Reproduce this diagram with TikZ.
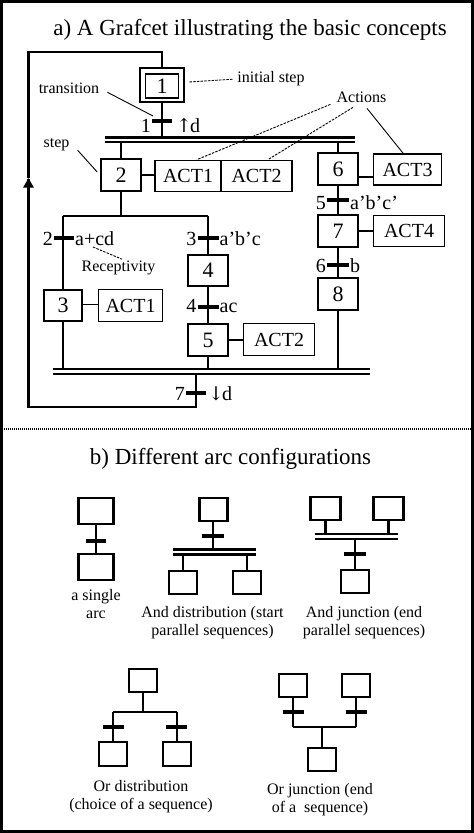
\documentclass[tikz,border=0pt]{standalone}
\usepackage{fontspec}
\setmainfont{Liberation Serif}
\newfontfamily\arrowfont{DejaVu Serif}
\usetikzlibrary{arrows.meta,calc}
\begin{document}
\begin{tikzpicture}[x=1pt,y=-1pt,
  stepbox/.style={draw,line width=2.6pt,minimum width=40pt,minimum height=32pt,inner sep=0pt,font=\fontsize{22}{24}\selectfont},
  actbox/.style={draw,line width=1.8pt,minimum height=31pt,inner sep=0pt,font=\fontsize{20}{22}\selectfont},
  arcline/.style={line width=2.4pt},
  link/.style={line width=1.8pt},
  trbar/.style={line width=3.6pt},
  tlab/.style={inner sep=1pt,font=\fontsize{20}{22}\selectfont},
  notetext/.style={inner sep=0pt,font=\fontsize{16}{18}\selectfont},
  noteline/.style={line width=0.9pt},
  notedash/.style={line width=0.9pt,dash pattern=on 2.5pt off 1.2pt},
  bbox/.style={draw,line width=2.6pt,minimum width=28pt,minimum height=23pt,inner sep=0pt},
  caption/.style={inner sep=0pt,align=center,font=\fontsize{16}{18.5}\selectfont},
  ttl/.style={inner sep=0pt,font=\fontsize{23}{26}\selectfont}
]
\useasboundingbox (0,0) rectangle (474,833);
\fill[white] (0,0) rectangle (474,833);
\draw[line width=3pt] (1.5,1.5) rectangle (472,831.5);
\draw[line width=1.8pt,dash pattern=on 1pt off 1pt] (0,429) -- (474,429);

% ---------------- part a ----------------
\node[ttl,anchor=base] (ta) at (250,35) {a) A Grafcet illustrating the basic concepts};

% step 1 (initial)
\node[draw,line width=2.8pt,minimum width=44pt,minimum height=34pt] (s1) at (162,85) {};
\node[draw,line width=1.4pt,minimum width=33pt,minimum height=24pt,inner sep=0pt,font=\fontsize{22}{24}\selectfont] (s1in) at (162,86) {1};

% transition 1
\coordinate (t1) at (162,121);
\coordinate (b1a) at (105,137.5); \coordinate (b1b) at (355,137.5);
\coordinate (b1c) at (105,142); \coordinate (b1d) at (355,142);
\draw[arcline] (s1.south) -- (s1.south |- b1a);
\draw[trbar] ([xshift=-10pt]t1) -- ([xshift=10pt]t1);
\node[tlab,anchor=base east] (l1a) at ([xshift=-10pt,yshift=-11.5pt]t1) {1};
\node[tlab,anchor=base west] (l1b) at ([xshift=13pt,yshift=-11.5pt]t1) {{\arrowfont\fontsize{19}{22}\selectfont ↑}\kern-2pt d};
\draw[line width=3pt] (b1a) -- (b1b);
\draw[line width=2pt] (b1c) -- (b1d);

% left sequence: step 2
\node[stepbox] (s2) at (121,175) {2};
\draw[arcline] (s2.north |- b1c) -- (s2.north);
\node[actbox,minimum width=66pt] (a1) at (188,176) {ACT1};
\node[actbox,minimum width=71pt] (a2) at (256.5,176) {ACT2};
\draw[link] (s2.east) -- (s2.east -| a1.west);

% right sequence: steps 6,7,8
\node[stepbox] (s6) at (338,169) {6};
\draw[arcline] (s6.north |- b1c) -- (s6.north);
\node[actbox,minimum width=68pt] (a3) at (407.5,169.5) {ACT3};
\draw[link] ([yshift=-8pt]s6.east) -- ([yshift=-8pt]s6.east -| a3.west);
\node[stepbox] (s7) at (338,231) {7};
\node[actbox,minimum width=71pt] (a4) at (409,231) {ACT4};
\draw[link] (s7.east) -- (s7.east -| a4.west);
\node[stepbox] (s8) at (338,294) {8};
\draw[arcline] (s6.south) -- (s7.north);
\draw[arcline] (s7.south) -- (s8.north);
\coordinate (t5) at (338,200);
\coordinate (t6) at (338,265);
\draw[trbar] ([xshift=-11pt]t5) -- ([xshift=11pt]t5);
\draw[trbar] ([xshift=-11pt]t6) -- ([xshift=11pt]t6);
\node[tlab,anchor=base east] (l5a) at ([xshift=-11pt,yshift=-9.5pt]t5) {5};
\node[tlab,anchor=base west] (l5b) at ([xshift=11pt,yshift=-9.5pt]t5) {a’b’c’};
\node[tlab,anchor=base east] (l6a) at ([xshift=-11pt,yshift=-7pt]t6) {6};
\node[tlab,anchor=base west] (l6b) at ([xshift=11pt,yshift=-7pt]t6) {b};

% OR divergence under step 2
\coordinate (o1) at (121,216);
\coordinate (oL) at (63,216);
\coordinate (oR) at (208,216);
\node[stepbox,minimum width=38pt,minimum height=31pt] (s3) at (63,305.5) {3};
\node[stepbox,minimum height=31pt] (s4) at (208,270.5) {4};
\node[stepbox] (s5) at (208,340) {5};
\draw[arcline] (s2.south) -- (o1);
\draw[arcline] (oL) -- (oR);
\draw[arcline] (oL) -- (s3.north);
\draw[arcline] (oR) -- (s4.north);
\draw[arcline] (s4.south) -- (s5.north);
\coordinate (t2) at (64,238);
\coordinate (t3) at (208,238);
\coordinate (t4) at (208,307);
\draw[trbar] ([xshift=-10pt]t2) -- ([xshift=10pt]t2);
\draw[trbar] ([xshift=-10.5pt]t3) -- ([xshift=10.5pt]t3);
\draw[trbar] ([xshift=-10.5pt]t4) -- ([xshift=10.5pt]t4);
\node[tlab,anchor=base east] (l2a) at ([xshift=-10pt,yshift=-7pt]t2) {2};
\node[tlab,anchor=base west] (l2b) at ([xshift=10pt,yshift=-7pt]t2) {a+cd};
\node[tlab,anchor=base east] (l3a) at ([xshift=-10.5pt,yshift=-7pt]t3) {3};
\node[tlab,anchor=base west] (l3b) at ([xshift=10.5pt,yshift=-7pt]t3) {a’b’c};
\node[tlab,anchor=base east] (l4a) at ([xshift=-10.5pt,yshift=-5pt]t4) {4};
\node[tlab,anchor=base west] (l4b) at ([xshift=10.5pt,yshift=-5pt]t4) {ac};

\node[actbox,minimum width=64pt,minimum height=32pt] (a5) at (130.5,305.5) {ACT1};
\draw[link] ([yshift=1pt]s3.east) -- ([yshift=1pt]s3.east -| a5.west);
\node[actbox,minimum width=71pt,minimum height=32pt] (a6) at (279,339.5) {ACT2};
\draw[link] (s5.east) -- (s5.east -| a6.west);

% AND convergence bar
\coordinate (b2a) at (53,369); \coordinate (b2b) at (370,369);
\coordinate (b2c) at (53,374.3); \coordinate (b2d) at (370,374.3);
\draw[arcline] (s3.south) -- (s3.south |- b2a);
\draw[arcline] (s5.south) -- (s5.south |- b2a);
\draw[arcline] (s8.south) -- (s8.south |- b2a);
\draw[line width=2.4pt] (b2a) -- (b2b);
\draw[line width=2.1pt] (b2c) -- (b2d);

% loop back to step 1
\coordinate (l0) at (196,374.3);
\coordinate (lp1) at (196,407);
\coordinate (lp2) at (28.5,407);
\coordinate (la) at (28.5,178);
\coordinate (lp3) at (28.5,52);
\coordinate (t7) at (196,393);
\draw[arcline] (l0) -- (lp1) -- (lp2) -- ([yshift=-1pt]la);
\draw[arcline,-{Triangle[width=10pt,length=9.5pt]}] (lp2) -- (la);
\draw[arcline] (la) -- (lp3) -| (s1.north);
\draw[trbar] ([xshift=-10pt]t7) -- ([xshift=10pt]t7);
\node[tlab,anchor=base east] (l7a) at ([xshift=-10pt,yshift=-7pt]t7) {7};
\node[tlab,anchor=base west] (l7b) at ([xshift=11pt,yshift=-7pt]t7) {{\arrowfont\fontsize{19}{22}\selectfont ↓}\kern-2pt d};

% annotations
\node[notetext,anchor=base] (nis) at (271,82) {initial step};
\draw[notedash] ([xshift=4pt,yshift=3pt]s1.east) -- ([xshift=-4pt,yshift=-1pt]nis.west);
\node[notetext,anchor=base] (ntr) at (69,93) {transition};
\draw[noteline] ([xshift=8pt,yshift=-4.5pt]ntr.east) -- ([xshift=-9pt,yshift=5pt]t1);
\node[notetext,anchor=base] (nst) at (56.5,147) {step};
\draw[noteline] ([xshift=8pt,yshift=-6pt]nst.east) -- ([xshift=-2.5pt,yshift=3pt]s2.west);
\node[notetext,anchor=base] (nrc) at (118.5,271) {Receptivity};
\draw[notedash] ([xshift=29pt,yshift=-9pt]t2) -- ([xshift=3.5pt,yshift=1pt]nrc.north);
\node[notetext,anchor=base] (nac) at (361.5,102) {Actions};
\draw[notedash] ([xshift=-6pt,yshift=-2pt]nac.south west) -- ([xshift=9pt]a1.north);
\draw[notedash] ([xshift=-8.5pt,yshift=-5pt]nac.south) -- ([xshift=11.5pt]a2.north);
\draw[noteline] ([xshift=5.5pt,yshift=-6pt]nac.south) -- ([xshift=-4.5pt]a3.north);

% ---------------- part b ----------------
\node[ttl,anchor=base] (tb) at (230.5,464) {b) Different arc configurations};

% a single arc
\node[bbox,minimum width=35.5pt,minimum height=26pt] (p1) at (96,511) {};
\node[bbox,minimum width=35.5pt,minimum height=26pt] (p2) at (96,567) {};
\draw[arcline] (p1.south) -- (p2.north);
\coordinate (pt) at (96,541);
\draw[trbar] ([xshift=-10pt]pt) -- ([xshift=10pt]pt);
\node[caption,anchor=north] (c1) at (96,589) {a single\\arc};

% And distribution
\node[bbox] (q1) at (213.5,509.5) {};
\node[bbox] (q2) at (183,582.5) {};
\node[bbox] (q3) at (247,582.5) {};
\coordinate (qt) at (213,536);
\coordinate (qa) at (173,549.5); \coordinate (qb) at (256,549.5);
\coordinate (qc) at (173,554.5); \coordinate (qd) at (256,554.5);
\draw[arcline] (qt |- q1.south) -- (qt |- qa);
\draw[trbar] ([xshift=-11pt]qt) -- ([xshift=11pt]qt);
\draw[line width=2.5pt] (qa) -- (qb);
\draw[line width=2.5pt] (qc) -- (qd);
\draw[arcline] (q2.north |- qc) -- (q2.north);
\draw[arcline] (q3.north |- qc) -- (q3.north);
\node[caption,anchor=north] (c2) at (212.5,606) {And distribution (start\\parallel sequences)};

% And junction
\node[bbox,minimum width=30pt] (r1) at (325.5,508.5) {};
\node[bbox,minimum width=30pt] (r2) at (388.5,508.5) {};
\node[bbox] (r3) at (355,581.5) {};
\coordinate (ra) at (315,534); \coordinate (rb) at (398,534);
\coordinate (rc) at (315,539); \coordinate (rd) at (398,539);
\coordinate (rt) at (355,554);
\draw[arcline] (r1.south) -- (r1.south |- ra);
\draw[arcline] (r2.south) -- (r2.south |- ra);
\draw[line width=2.5pt] (ra) -- (rb);
\draw[line width=2.5pt] (rc) -- (rd);
\draw[arcline] (r3.north |- rc) -- (r3.north);
\draw[trbar] ([xshift=-11pt]rt) -- ([xshift=11pt]rt);
\node[caption,anchor=north] (c3) at (364,606) {And junction (end\\parallel sequences)};

% Or distribution
\node[bbox] (u1) at (143,680.5) {};
\node[bbox,minimum height=24pt] (u2) at (113,754) {};
\node[bbox,minimum height=24pt] (u3) at (177,754) {};
\coordinate (uh) at (143,712);
\coordinate (uL) at (113,712); \coordinate (uR) at (177,712);
\coordinate (ut1) at (113.5,727); \coordinate (ut2) at (176.5,727);
\draw[arcline] (u1.south) -- (uh);
\draw[arcline] (uL) -- (uR);
\draw[arcline] (uL) -- (u2.north);
\draw[arcline] (uR) -- (u3.north);
\draw[trbar] ([xshift=-10.5pt]ut1) -- ([xshift=10.5pt]ut1);
\draw[trbar] ([xshift=-10.5pt]ut2) -- ([xshift=10.5pt]ut2);
\node[caption,anchor=north] (c4) at (141,780) {Or distribution\\(choice of a sequence)};

% Or junction
\node[bbox] (v1) at (293,685.5) {};
\node[bbox] (v2) at (356,685.5) {};
\node[bbox] (v3) at (322,759.5) {};
\coordinate (vL) at (293,727); \coordinate (vR) at (356,727);
\coordinate (vh) at (322,727);
\coordinate (vt1) at (293,712); \coordinate (vt2) at (356,712);
\draw[arcline] (v1.south) -- (vL);
\draw[arcline] (v2.south) -- (vR);
\draw[arcline] (vL) -- (vR);
\draw[arcline] (vh) -- (v3.north);
\draw[trbar] ([xshift=-10.5pt]vt1) -- ([xshift=10.5pt]vt1);
\draw[trbar] ([xshift=-10.5pt]vt2) -- ([xshift=10.5pt]vt2);
\node[caption,anchor=north] (c5) at (320,783) {Or junction (end\\of a~ sequence)};
\end{tikzpicture}
\end{document}
